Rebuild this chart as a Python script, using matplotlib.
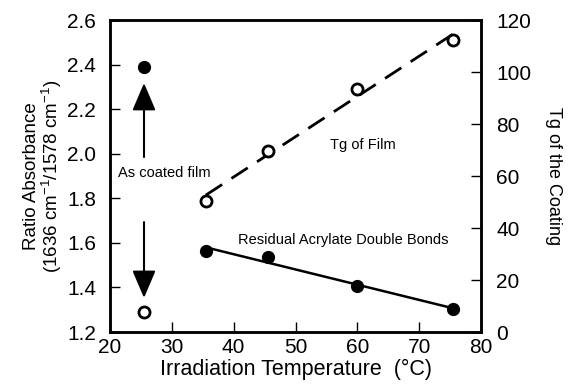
import numpy as np
import matplotlib.pyplot as plt

plt.rcParams['font.family'] = ['Liberation Sans', 'DejaVu Sans']

# ratio absorbance (left axis)
coated_temp = [25.5]
coated_ratio = [2.39]
resid_temp = [35.5, 45.5, 60.0, 75.5]
resid_ratio = [1.565, 1.535, 1.405, 1.305]

# Tg (right axis)
coated_tg = [7.7]
tg_temp = [35.5, 45.5, 60.0, 75.5]
tg_vals = [50.5, 69.5, 93.5, 112.5]

fig = plt.figure(figsize=(5.69, 3.88), dpi=100)
ax = fig.add_axes([110/569, 1 - 332/388, 371/569, 312/388])
ax2 = ax.twinx()

# fitted lines
p1 = np.polyfit(resid_temp, resid_ratio, 1)
xs = np.array([resid_temp[0], resid_temp[-1]])
ax.plot(xs, np.polyval(p1, xs), color='black', lw=1.8)
p2 = np.polyfit(tg_temp, tg_vals, 1)
ax2.plot(xs, np.polyval(p2, xs), color='black', lw=2, dashes=(7, 4))

ax.plot(resid_temp, resid_ratio, 'o', color='black', ms=8.5)
ax.plot(coated_temp, coated_ratio, 'o', color='black', ms=8.5)
ax2.plot(tg_temp, tg_vals, 'o', mfc='white', mec='black', mew=2, ms=8)
ax2.plot(coated_temp, coated_tg, 'o', mfc='white', mec='black', mew=2, ms=8)

ax.set_xlim(20, 80)
ax.set_ylim(1.2, 2.6)
ax2.set_ylim(0, 120)
ax.set_xticks(range(20, 81, 10))
ax.set_yticks(np.arange(1.2, 2.61, 0.2))
ax.set_yticklabels([f'{v:.1f}' for v in np.arange(1.2, 2.61, 0.2)])
ax2.set_yticks(range(0, 121, 20))

for a in (ax, ax2):
    a.tick_params(direction='in', length=7, width=1, labelsize=15)
    for s in a.spines.values():
        s.set_linewidth(1.8)
ax.tick_params(axis='x', pad=4)
ax.tick_params(axis='y', pad=10)
ax2.tick_params(axis='y', pad=11)

ax.set_xlabel('Irradiation Temperature  (°C)', fontsize=15.5, labelpad=2)
ax.set_ylabel('Ratio Absorbance\n(1636 cm$^{\\mathregular{-1}}$/1578 cm$^{\\mathregular{-1}}$)',
              fontsize=13.5, linespacing=0.95, labelpad=2)
ax2.set_ylabel('Tg of the Coating', fontsize=13, rotation=270, labelpad=22)

# annotations
ax.text(21.3, 1.913, 'As coated film', fontsize=10.5, va='center')
ax.text(55.6, 2.04, 'Tg of Film', fontsize=10.5, va='center')
ax.text(40.7, 1.613, 'Residual Acrylate Double Bonds', fontsize=10.5, va='center')
head = '-|>,head_width=0.29,head_length=0.68'
ax.annotate('', xy=(25.5, 2.317), xytext=(25.5, 1.985),
            arrowprops=dict(arrowstyle=head, color='black', lw=1.5, mutation_scale=25,
                            shrinkA=0, shrinkB=0))
ax.annotate('', xy=(25.5, 1.353), xytext=(25.5, 1.693),
            arrowprops=dict(arrowstyle=head, color='black', lw=1.5, mutation_scale=25,
                            shrinkA=0, shrinkB=0))

fig.savefig('out.png', dpi=100)
